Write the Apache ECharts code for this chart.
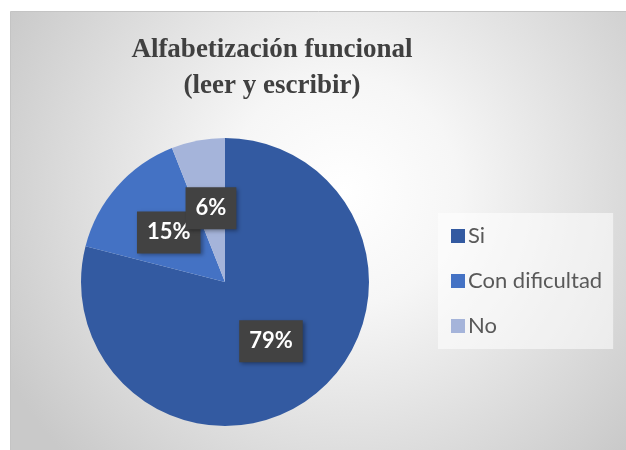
<!DOCTYPE html>
<html>
<head>
<meta charset="utf-8">
<script src="https://cdn.jsdelivr.net/npm/echarts@6/dist/echarts.min.js"></script>
<style>
  html, body { margin: 0; padding: 0; background: #fff; overflow: hidden; }
  #chart { width: 626px; height: 450px; }
</style>
</head>
<body>
<div id="chart"></div>
<script>
// datos del gráfico
const categories = ['Si', 'Con dificultad', 'No']
const values = [79, 15, 6]
const colors = ['#335aa1', '#4472c4', '#a5b4da']
const titleText = 'Alfabetización funcional\n(leer y escribir)'

const chart = echarts.init(document.getElementById('chart'))

const option = {
  backgroundColor: '#ffffff',
  animation: false,
  // panel con degradado radial (fondo del gráfico)
  graphic: [
    {
      type: 'rect',
      z: -10,
      silent: true,
      shape: { x: 10.5, y: 11.5, width: 640, height: 450 },
      style: {
        fill: {
          type: 'radial',
          x: 0.52,
          y: 0.4,
          r: 0.85,
          colorStops: [
            { offset: 0, color: '#ffffff' },
            { offset: 0.3, color: '#f6f6f6' },
            { offset: 1, color: '#c9c9c9' },
          ],
        },
        stroke: '#c4c4c4',
        lineWidth: 1,
      },
    },
  ],
  title: {
    text: titleText,
    left: 267,
    top: 27,
    textAlign: 'center',
    textStyle: {
      fontFamily: '"Liberation Serif", "DejaVu Serif", serif',
      fontWeight: 'bold',
      fontSize: 27,
      lineHeight: 36,
      color: '#404040',
    },
  },
  legend: {
    orient: 'vertical',
    left: 438,
    top: 213,
    padding: [12, 11, 12, 13],
    backgroundColor: 'rgba(255,255,255,0.55)',
    itemWidth: 14,
    itemHeight: 14,
    itemGap: 23,
    icon: 'rect',
    data: categories,
    textStyle: {
      fontFamily: 'Lato, "Open Sans", sans-serif',
      fontSize: 22,
      lineHeight: 22,
      color: '#595959',
      padding: [0, 0, 0, -2],
    },
  },
  series: [
    {
      name: 'Alfabetización funcional',
      type: 'pie',
      center: [225, 282],
      radius: 144,
      startAngle: 90,
      clockwise: true,
      avoidLabelOverlap: false,
      labelLayout: { hideOverlap: false },
      itemStyle: {
        borderWidth: 0,
      },
      label: {
        show: true,
        position: 'inside',
        formatter: '{c}%',
        fontFamily: 'Lato, "Open Sans", sans-serif',
        fontWeight: 'bold',
        fontSize: 22,
        color: '#ffffff',
        backgroundColor: '#424242',
        padding: [10, 10, 10, 10],
        shadowBlur: 4,
        shadowOffsetX: 2,
        shadowOffsetY: 2,
        shadowColor: 'rgba(0,0,0,0.35)',
      },
      labelLine: { show: false },
      emphasis: { disabled: true },
      data: categories.map((name, i) => ({
        name,
        value: values[i],
        itemStyle: { color: colors[i] },
      })),
    },
  ],
}

chart.setOption(option)
</script>
</body>
</html>
